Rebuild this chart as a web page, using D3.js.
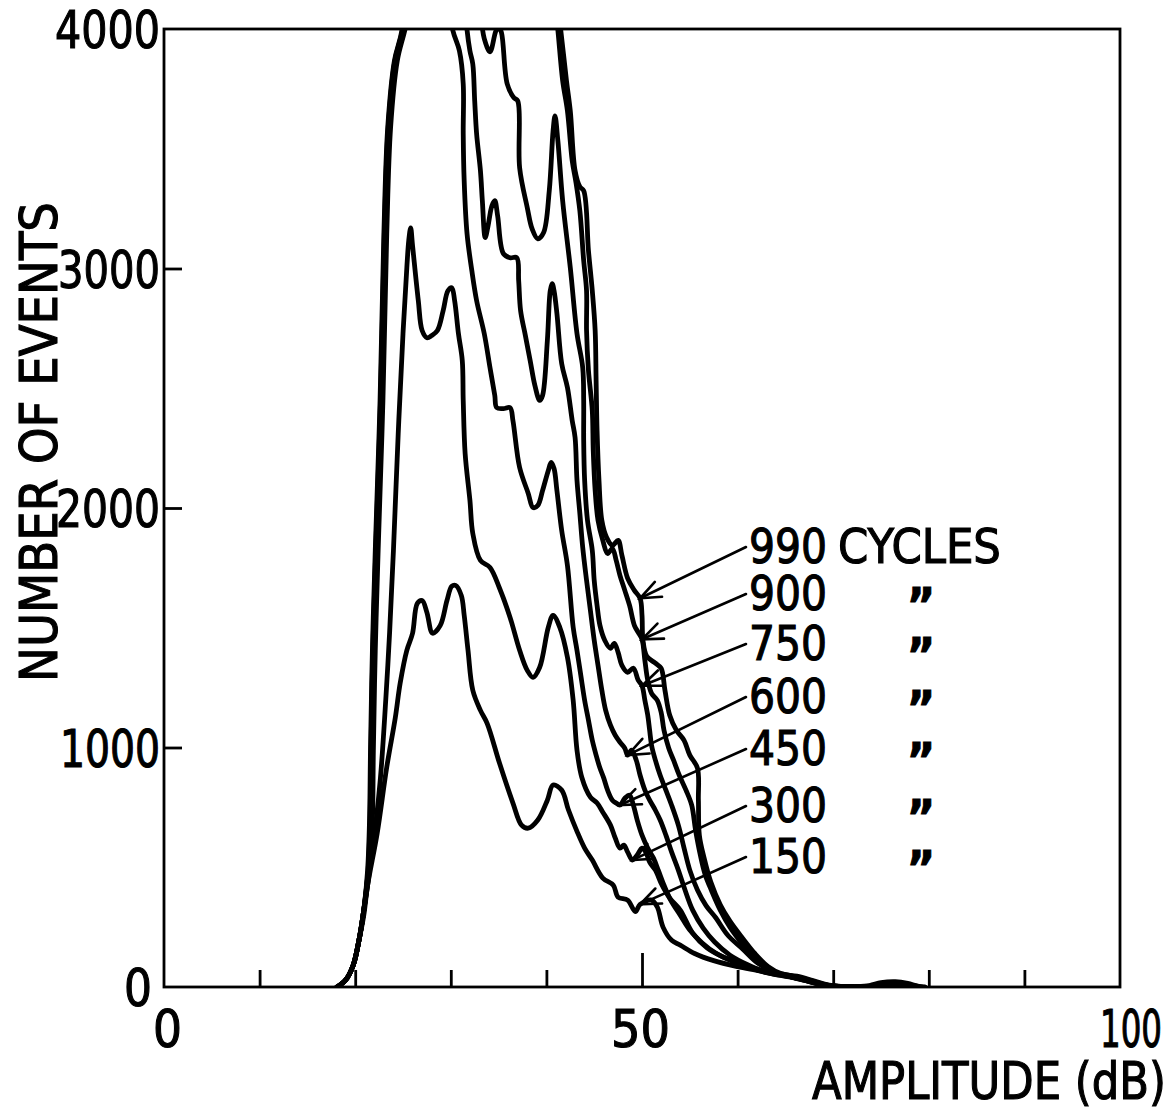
<!DOCTYPE html>
<html>
<head>
<meta charset="utf-8">
<script src="https://cdn.jsdelivr.net/npm/d3@7"></script>
<style>
  html, body { margin: 0; padding: 0; background: #fff; }
  svg { display: block; }
  text { font-family: "DejaVu Sans Condensed", "DejaVu Sans", sans-serif; fill: #000; stroke: #000; stroke-width: 1.1px; }
</style>
</head>
<body>
<svg id="chart" width="1175" height="1110"></svg>
<script>
// Amplitude distributions of acoustic emission events after N fatigue cycles.
// Each series: [amplitude (dB), number of events]. Values above 4000 run off the top of the frame.
const cycles = [990, 900, 750, 600, 450, 300, 150];

const curve990 = [
  [18.1,0],[19.0,29],[19.8,92],[20.4,196],[20.9,321],[21.3,488],[21.5,697],[21.6,989],[21.8,1406],[22.1,1823],
  [22.6,2449],[23.0,3145],[23.4,3587],[24.1,3867],[24.9,3996],[26.0,4400],[30.0,4800],[35.0,4800],[39.0,4500],[41.0,4150],
  [41.5,3996],[42.1,3784],[42.5,3658],[43.0,3408],[43.5,3341],[43.9,3325],[44.4,3074],[44.8,2907],[45.1,2741],[45.2,2532],
  [45.3,2324],[45.5,2115],[45.8,1948],[46.3,1877],[46.9,1844],[47.5,1865],[47.9,1802],[48.5,1706],[49.2,1656],[49.8,1623],
  [50.0,1552],[50.1,1448],[50.5,1381],[51.4,1352],[52.0,1331],[52.4,1239],[52.9,1135],[53.6,1072],[54.4,1030],[55.0,968],
  [55.8,914],[55.9,780],[56.0,634],[56.5,538],[57.2,438],[58.2,342],[59.2,275],[60.5,205],[61.8,140],[63.2,85],
  [64.6,55],[66.2,45],[67.8,28],[69.3,10],[70.8,3],[72.5,2],[73.8,6],[75.0,18],[76.5,22],[77.8,15],[78.8,4],[79.6,0]
];

const curve900 = [
  [18.1,0],[19.0,29],[19.8,92],[20.4,196],[20.9,321],[21.35,488],[21.55,697],[21.65,989],[21.85,1406],[22.15,1823],
  [22.65,2449],[23.05,3145],[23.45,3587],[24.15,3867],[24.95,3996],[26.0,4350],[30.0,4700],[35.0,4700],[39.0,4400],[40.8,4150],
  [41.2,3996],[41.7,3784],[42.2,3658],[42.7,3450],[43.1,3358],[43.5,3241],[43.9,3033],[44.2,2907],[44.2,2741],[44.4,2574],
  [44.8,2407],[44.9,2240],[45.1,2073],[45.4,1948],[45.9,1865],[46.4,1810],[46.9,1831],[47.3,1781],[47.7,1718],[48.2,1656],
  [48.7,1593],[49.2,1510],[49.6,1481],[50.0,1452],[50.3,1364],[50.6,1281],[51.0,1226],[51.6,1197],[52.0,1147],[52.3,1072],
  [52.8,997],[53.3,947],[53.9,884],[54.6,822],[55.2,759],[55.6,655],[56.1,551],[56.6,470],[57.3,400],[58.2,320],
  [59.2,250],[60.5,180],[61.8,120],[63.2,78],[64.6,52],[66.2,42],[67.8,25],[69.3,8],[70.8,2],[73.5,2],
  [75.0,14],[76.5,17],[78.0,9],[79.3,0]
];

const curve750 = [
  [18.1,0],[19.0,29],[19.8,92],[20.4,196],[20.9,321],[21.4,488],[21.6,697],[21.7,989],[21.9,1406],[22.2,1823],
  [22.7,2449],[23.1,3145],[23.5,3587],[24.2,3867],[25.0,3996],[27.0,4400],[31.0,4400],[32.8,4150],[33.5,3960],[34.1,3905],
  [34.7,3990],[35.0,4010],[35.3,3985],[35.9,3771],[36.6,3713],[37.0,3700],[37.2,3421],[38.0,3254],[38.5,3166],[39.1,3124],
  [39.7,3149],[40.3,3325],[40.7,3575],[40.9,3637],[41.2,3533],[41.7,3283],[42.5,3003],[43.2,2728],[43.8,2586],[43.9,2449],
  [43.9,2282],[44.0,2115],[44.3,1948],[44.8,1823],[45.0,1698],[45.3,1593],[45.6,1510],[46.1,1448],[46.7,1414],[47.1,1435],
  [47.5,1397],[47.9,1343],[48.5,1314],[49.1,1331],[49.6,1281],[50.0,1258],[50.3,1197],[50.6,1135],[50.8,1072],[51.0,1009],
  [51.4,947],[51.9,884],[52.5,822],[53.1,759],[53.8,676],[54.4,580],[55.0,488],[55.8,405],[56.7,340],[57.7,290],
  [59.0,215],[60.5,160],[62.1,100],[63.9,63],[65.5,48],[67.2,30],[68.8,12],[70.5,3],[72.5,1],[75.0,5],[77.0,6],[79.0,0]
];

const curve600 = [
  [18.1,0],[19.0,29],[19.8,92],[20.4,196],[20.9,321],[21.45,488],[21.7,697],[21.8,989],[22.0,1406],[22.3,1823],
  [22.8,2449],[23.2,3145],[23.6,3587],[24.3,3867],[25.1,3996],[27.0,4400],[30.0,4500],[31.4,4150],
  [31.7,3996],[32.0,3909],[32.3,3854],[32.5,3700],[32.7,3562],[33.1,3408],[33.3,3283],[33.6,3129],[33.9,3179],[34.3,3262],
  [34.6,3283],[34.9,3220],[35.5,3062],[36.2,3045],[36.9,3045],[37.1,2949],[37.3,2824],[37.8,2720],[38.3,2616],[38.8,2511],
  [39.3,2449],[39.6,2470],[40.1,2699],[40.4,2907],[40.6,2937],[40.8,2907],[41.1,2812],[41.6,2603],[42.2,2503],[42.7,2365],
  [43.0,2294],[43.2,2115],[43.5,1977],[43.8,1835],[44.2,1698],[44.6,1573],[45.0,1448],[45.4,1343],[45.8,1239],[46.2,1155],
  [46.7,1093],[47.2,1051],[47.7,1022],[48.2,997],[48.5,968],[48.9,989],[49.4,947],[49.8,884],[50.3,822],[50.8,780],
  [51.4,738],[51.9,697],[52.5,634],[53.1,563],[53.8,488],[54.5,405],[55.3,321],[56.4,246],[57.6,188],[59.2,133],
  [61.1,92],[62.9,63],[64.8,50],[66.6,33],[68.4,14],[70.2,3],[72.0,0]
];

const curve450 = [
  [18.1,0],[19.0,29],[19.8,92],[20.4,196],[20.9,321],[21.5,488],[21.8,697],[21.9,989],[22.1,1406],[22.4,1823],
  [22.9,2449],[23.3,3145],[23.7,3587],[24.4,3867],[25.2,3996],[27.0,4300],[29.0,4300],
  [30.2,3996],[30.9,3909],[31.3,3771],[31.3,3562],[31.4,3366],[31.7,3145],[32.2,2991],[32.7,2866],[33.5,2728],[34.1,2586],
  [34.6,2470],[34.8,2419],[35.5,2415],[36.2,2419],[36.5,2365],[37.2,2169],[38.1,2061],[38.6,2002],[39.1,2011],[39.6,2073],
  [40.2,2157],[40.5,2190],[40.8,2165],[41.1,2073],[41.6,1906],[42.2,1760],[42.8,1502],[43.2,1406],[43.6,1301],[44.0,1197],
  [44.4,1114],[44.8,1030],[45.2,968],[45.6,914],[46.0,872],[46.4,822],[46.9,780],[47.3,768],[47.7,760],[48.2,788],
  [48.7,801],[49.1,759],[49.5,697],[50.0,634],[50.6,580],[51.2,538],[51.7,488],[52.3,425],[53.0,363],[54.0,300],
  [55.0,238],[56.3,184],[57.7,142],[59.4,108],[61.3,83],[63.2,63],[65.0,48],[66.8,30],[68.6,12],[70.3,3],[72.0,0]
];

const curve300 = [
  [18.1,0],[19.0,29],[19.8,92],[20.4,196],[20.9,321],[21.3,455],[21.8,573],[22.6,855],[23.2,1201],[23.6,1481],
  [24.0,1823],[24.5,2311],[25.0,2728],[25.4,3003],[25.6,3116],[25.8,3170],[26.0,3095],[26.6,2866],[27.0,2741],[27.5,2711],
  [28.0,2720],[28.6,2741],[29.2,2824],[29.7,2907],[30.1,2920],[30.4,2866],[30.8,2728],[31.2,2616],[31.3,2449],[31.5,2227],
  [32.0,2032],[32.3,1894],[33.1,1781],[34.1,1752],[35.1,1665],[36.2,1543],[37.2,1406],[38.0,1322],[38.6,1293],[39.3,1335],
  [40.2,1502],[40.7,1552],[41.4,1502],[42.2,1377],[42.8,1197],[43.2,989],[43.7,876],[44.6,793],[45.3,768],[45.9,730],
  [46.7,676],[47.2,622],[47.7,580],[48.1,592],[48.5,563],[49.0,530],[49.5,551],[50.0,580],[50.4,563],[50.8,521],
  [51.4,488],[52.1,425],[52.9,371],[54.0,321],[55.3,225],[56.8,163],[58.5,125],[60.3,100],[62.0,71],[63.7,55],
  [65.5,43],[67.3,27],[69.0,9],[70.7,2],[72.0,0]
];

const curve150 = [
  [18.1,0],[19.0,29],[19.8,92],[20.4,196],[20.9,300],[21.3,425],[22.3,642],[23.3,918],[24.2,1126],[24.7,1268],
  [25.4,1406],[26.0,1477],[26.5,1602],[27.0,1614],[27.5,1564],[28.1,1477],[28.9,1510],[29.6,1614],[30.1,1673],[30.5,1677],
  [31.1,1635],[31.4,1552],[31.8,1406],[32.3,1239],[33.1,1155],[33.8,1101],[35.1,934],[36.5,768],[37.4,676],[38.1,663],
  [39.1,697],[40.1,780],[40.7,843],[41.6,822],[42.3,740],[43.2,650],[44.0,580],[44.8,530],[45.9,455],[47.0,425],
  [47.5,375],[48.5,363],[49.3,315],[49.8,345],[51.0,363],[51.6,334],[52.2,250],[53.1,195],[54.0,175],[55.5,140],
  [57.5,110],[60.0,85],[62.3,67],[63.6,55],[65.4,42],[67.2,26],[68.9,9],[70.6,2],[72.0,0]
];

const series = [curve990, curve900, curve750, curve600, curve450, curve300, curve150];

// Points on each curve that the legend arrows point at: [amplitude (dB), events]
const arrowTipDb    = [49.8, 50.0, 50.0, 48.5, 47.7, 49.0, 49.8];
const arrowTipCount = [1623, 1452, 1258, 968, 760, 530, 345];

// Axis ticks and labels
const xMinorTicks = [10, 20, 30, 40, 50, 60, 70, 80, 90];
const xLabelValues = [0, 50, 100];
const xLabelText = ["0", "50", "100"];
const yMinorTicks = [1000, 2000, 3000];
const yLabelValues = [0, 1000, 2000, 3000, 4000];
const yLabelText = ["0", "1000", "2000", "3000", "4000"];

// ---- drawing ----
const svg = d3.select("#chart");
const x = d3.scaleLinear().domain([0, 100]).range([164, 1120]);
const y = d3.scaleLinear().domain([0, 4000]).range([987, 29]);

svg.append("rect").attr("width", 1175).attr("height", 1110).attr("fill", "#fff");

svg.append("defs").append("clipPath").attr("id", "plot-clip")
  .append("rect")
  .attr("x", x(0)).attr("y", y(4000))
  .attr("width", x(100) - x(0)).attr("height", y(0) - y(4000));

// inward ticks
svg.append("g")
  .attr("transform", `translate(0,${y(0)})`)
  .call(d3.axisBottom(x).tickValues(xMinorTicks).tickSize(-17).tickFormat(""))
  .call(g => g.select(".domain").remove())
  .call(g => g.selectAll(".tick text").remove())
  .call(g => g.selectAll(".tick line")
    .attr("stroke", "#000").attr("stroke-width", 2.8)
    .attr("y2", d => d === 50 ? -34 : -17));

svg.append("g")
  .attr("transform", `translate(${x(0)},0)`)
  .call(d3.axisLeft(y).tickValues(yMinorTicks).tickSize(-18).tickFormat(""))
  .call(g => g.select(".domain").remove())
  .call(g => g.selectAll(".tick text").remove())
  .call(g => g.selectAll(".tick line").attr("stroke", "#000").attr("stroke-width", 2.8));

// frame
svg.append("rect")
  .attr("x", x(0)).attr("y", y(4000))
  .attr("width", x(100) - x(0)).attr("height", y(0) - y(4000))
  .attr("fill", "none").attr("stroke", "#000").attr("stroke-width", 2.8);

// curves
const line = d3.line()
  .x(d => x(d[0]))
  .y(d => y(d[1]))
  .curve(d3.curveCatmullRom.alpha(0.5));

svg.append("g").attr("clip-path", "url(#plot-clip)")
  .selectAll("path")
  .data(series)
  .join("path")
  .attr("d", line)
  .attr("fill", "none")
  .attr("stroke", "#000")
  .attr("stroke-width", 4.8)
  .attr("stroke-linejoin", "round")
  .attr("stroke-linecap", "round");

// Lettering is narrow and tall: draw at a given size, then squeeze horizontally to a set width.
function fitText(parent, str, left, baseline, width, size, rotate) {
  const t = parent.append("text").attr("font-size", size).text(str);
  const natural = t.node().getComputedTextLength();
  const sx = width / natural;
  if (rotate) {
    // rotated reading bottom-to-top, centred on (left, baseline) = (baseline x, centre y)
    t.attr("text-anchor", "middle")
     .attr("transform", `translate(${left},${baseline}) rotate(-90) scale(${sx},1)`);
  } else {
    t.attr("transform", `translate(${left},${baseline}) scale(${sx},1)`);
  }
  return t;
}

// y tick labels
const yLabelWidth = { "0": 28, "1000": 100, "2000": 104, "3000": 102, "4000": 105 };
const yLabels = svg.append("g");
yLabelValues.forEach((v, i) => {
  const s = yLabelText[i];
  const w = yLabelWidth[s];
  const right = v === 0 ? 152 : 160;
  fitText(yLabels, s, right - w, y(v) + 19, w, 52);
});

// x tick labels (offsets from each tick position)
const xLabelOffset = [-11, -31, -20];
const xLabelWidth = [29, 59, 62];
const xLabels = svg.append("g");
xLabelValues.forEach((v, i) => {
  fitText(xLabels, xLabelText[i], x(v) + xLabelOffset[i], 1047, xLabelWidth[i], 52);
});

// axis titles
fitText(svg, "AMPLITUDE (dB)", 812, 1099, 354, 51);
fitText(svg, "NUMBER OF EVENTS", 57, 442, 480, 52, true);

// legend: labels, ditto marks and arrows
const legendBaseline = [563, 610, 660, 713, 765, 822, 873];
const legendX = 749;
const legend = svg.append("g");

cycles.forEach((c, i) => fitText(legend, String(c), legendX, legendBaseline[i], 78, 48));
fitText(legend, "CYCLES", 838, legendBaseline[0], 163, 48);

legend.selectAll("text.ditto")
  .data(cycles.slice(1))
  .join("text")
  .attr("class", "ditto")
  .attr("x", 921)
  .attr("y", (d, i) => legendBaseline[i + 1] + 12)
  .attr("text-anchor", "middle")
  .attr("font-size", 48)
  .attr("font-weight", "bold")
  .text("\u201D");

const arrows = legend.selectAll("g.arrow")
  .data(cycles.map((c, i) => ({
    x0: legendX - 3, y0: legendBaseline[i] - 16,
    x1: x(arrowTipDb[i]), y1: y(arrowTipCount[i])
  })))
  .join("g")
  .attr("class", "arrow")
  .attr("stroke", "#000")
  .attr("stroke-width", 2.6)
  .attr("stroke-linecap", "round")
  .attr("fill", "none");

arrows.append("line")
  .attr("x1", d => d.x0).attr("y1", d => d.y0)
  .attr("x2", d => d.x1).attr("y2", d => d.y1);

const headLen = 22, headAngle = 22 * Math.PI / 180;
arrows.append("path")
  .attr("d", d => {
    const a = Math.atan2(d.y0 - d.y1, d.x0 - d.x1);
    const p1 = [d.x1 + headLen * Math.cos(a + headAngle), d.y1 + headLen * Math.sin(a + headAngle)];
    const p2 = [d.x1 + headLen * Math.cos(a - headAngle), d.y1 + headLen * Math.sin(a - headAngle)];
    return `M${p1[0]},${p1[1]}L${d.x1},${d.y1}L${p2[0]},${p2[1]}`;
  });
</script>
</body>
</html>
